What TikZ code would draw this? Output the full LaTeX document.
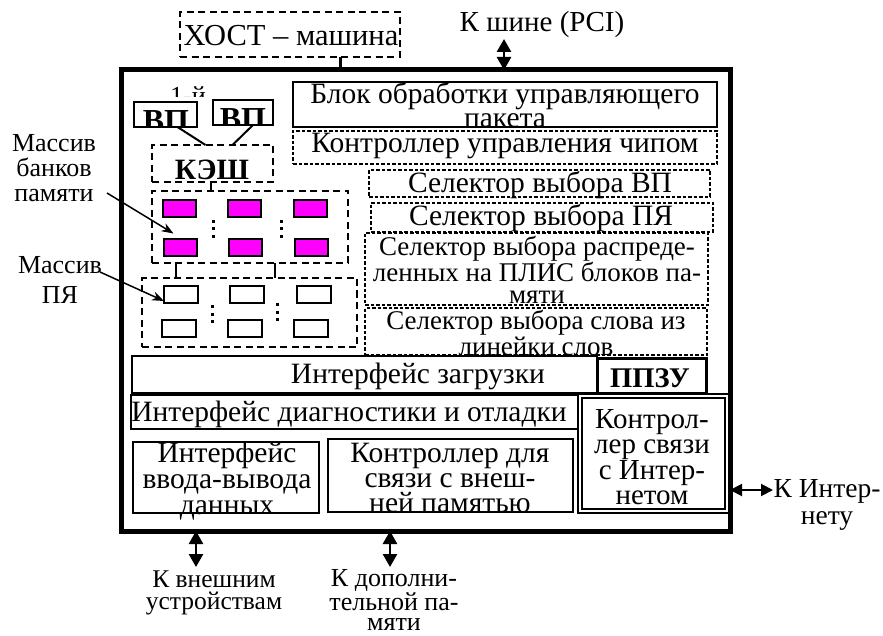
\documentclass[tikz,border=0pt]{standalone}
\usepackage{fontspec}
\setmainfont{Liberation Serif}
\usetikzlibrary{fit,calc,arrows.meta}
\definecolor{memfill}{RGB}{255,0,255}
\begin{document}
\begin{tikzpicture}[x=1pt,y=-1pt,
  every node/.style={inner sep=0pt,outer sep=0pt},
  txt/.style={font=\fontsize{29.5}{23}\selectfont,align=center},
  lbl/.style={font=\fontsize{26}{25}\selectfont,align=center},
  bigbold/.style={font=\fontsize{32}{32}\selectfont\bfseries},
  box/.style={draw,line width=2pt,fit={#1},inner sep=0pt},
  thickbox/.style={draw,line width=3pt,fit={#1},inner sep=0pt},
  thindash/.style={draw,line width=1.2pt,dash pattern=on 3.5pt off 2pt,fit={#1},inner sep=0pt},
  bigdash/.style={draw,line width=2pt,dash pattern=on 7pt off 4.5pt,fit={#1},inner sep=0pt},
  mem/.style={draw,line width=2pt,fill=memfill,minimum width=33pt,minimum height=17pt},
  cell/.style={draw,line width=2pt,fill=white,minimum width=34pt,minimum height=17pt},
  dots/.style={line width=3pt,dash pattern=on 3pt off 4.5pt},
  link/.style={line width=2pt},
  dbl/.style={line width=2.6pt,{Triangle[width=14pt,length=13pt]}-{Triangle[width=14pt,length=13pt]}},
  ptr/.style={line width=1.5pt,-{Stealth[width=9pt,length=12pt]}}
]
\useasboundingbox (0,0) rectangle (883,636);

% outer frame
\node[draw,line width=5pt,fit={(121,70)(730,531)},inner sep=0pt] (frame) {};

% host
\node[bigdash={(180,12)(400,57)}] (host) {};
\node[txt,font=\fontsize{30.5}{30}\selectfont] (hostt) at (291,36) {ХОСТ – машина};
\coordinate (hl) at (340,0);
\draw[line width=3pt] (host.south -| hl) -- (frame.north -| hl);

% PCI
\node[txt,font=\fontsize{29}{29}\selectfont] (pcit) at (542,25) {К шине (PCI)};
\coordinate (pci) at (504,39);
\draw[dbl] (pci) -- (pci |- frame.north);

% right column
\node[box={(293,82)(717,127)},line width=2.5pt] (blk) {};
\node[txt,font=\fontsize{29.5}{24}\selectfont] (blkt) at (505,105) {Блок обработки управляющего\\пакета};
\node[thindash={(293,131)(717,164)}] (ctl) {};
\node[txt] (ctlt) at (505,146) {Контроллер управления чипом};
\node[thindash={(369,170)(710,197)}] (svp) {};
\node[txt] (svpt) at (540,185) {Селектор выбора ВП};
\node[thindash={(371,203)(713,232)}] (spy) {};
\node[txt] (spyt) at (541,218) {Селектор выбора ПЯ};
\node[thindash={(365,233)(708,305)}] (spl) {};
\node[txt,font=\fontsize{27}{22.5}\selectfont] (splt) at (537,270) {Селектор выбора распреде-\\ленных на ПЛИС блоков па-\\мяти};
\node[thindash={(365,308)(707,355)}] (ssl) {};
\node[txt,font=\fontsize{27}{23}\selectfont] (sslt) at (536,333) {Селектор выбора слова из\\линейки слов};

% 1-й and VP boxes
\begin{scope}
  \clip (150,70) rectangle (230,97);
  \node[lbl,anchor=base] (first) at (188,105) {1-й};
\end{scope}
\node[box={(134,102)(197,127)},line width=2.5pt,fill=white] (vp1) {};
\node[box={(213,100)(273,125)},line width=2.5pt,fill=white] (vp2) {};
\begin{scope}
  \clip (vp1.south west) rectangle (vp1.north east);
  \node[bigbold,anchor=base] (vp1t) at (166,131.5) {ВП};
\end{scope}
\begin{scope}
  \clip (vp2.south west) rectangle (vp2.north east);
  \node[bigbold,anchor=base] (vp2t) at (243,129.5) {ВП};
\end{scope}

% cache
\node[bigdash={(152,145)(273,182)}] (kesh) {};
\begin{scope}
  \clip (kesh.south west) rectangle (kesh.north east);
  \node[bigbold,font=\fontsize{29.5}{30}\selectfont\bfseries,anchor=base] (kesht) at (212,180) {КЭШ};
\end{scope}
\draw[link] ($(vp1.south)+(12,0)$) -- ($(kesh.north)+(-7,0)$);
\draw[link] ($(vp2.south)+(10,0)$) -- ($(kesh.north)+(20,0)$);

% bank array
\node[bigdash={(152,191)(348,263)}] (bank) {};
\draw[link] ($(kesh.south)+(-2,0)$) coordinate (kd) -- (kd |- bank.north);
\node[mem] (m11) at (179.5,208.5) {};
\node[mem] (m12) at (244.5,208.5) {};
\node[mem] (m13) at (310.5,208.5) {};
\node[mem] (m21) at (180,248) {};
\node[mem] (m22) at (245.5,248) {};
\node[mem] (m23) at (311.5,248) {};
\draw[dots] (213,220) -- (213,238);
\draw[dots] (281,220) -- (281,238);

% PY array
\node[bigdash={(142,278)(357,347)}] (pya) {};
\coordinate (c1) at (176,0);
\coordinate (c2) at (275,0);
\draw[link] (c1 |- bank.south) -- (c1 |- pya.north);
\draw[link] (c2 |- bank.south) -- (c2 |- pya.north);
\node[cell] (p11) at (181,294.5) {};
\node[cell] (p12) at (247,294.5) {};
\node[cell] (p13) at (313.5,294.5) {};
\node[cell] (p21) at (178.5,328) {};
\node[cell] (p22) at (245,328) {};
\node[cell] (p23) at (311,328) {};
\draw[dots] (212,305) -- (212,323);
\draw[dots] (277,303) -- (277,321);

% left labels
\node[lbl] (lbank) at (54,168) {Массив\\банков\\памяти};
\coordinate (lbs) at (107,193);
\draw[ptr] (lbs) -- ($(m21.north west)+(10,-6)$);
\node[lbl,font=\fontsize{26}{30}\selectfont] (lpy) at (60,280) {Массив\\ПЯ};
\coordinate (lps) at (100,272);
\draw[ptr] (lps) -- ($(p11.south west)+(0,-2)$);

% lower blocks
\node[box={(132,356)(597,393)}] (load) {};
\node[txt] (loadt) at (418,376) {Интерфейс загрузки};
\node[thickbox={(597,358)(706,393)}] (rom) {};
\begin{scope}
  \clip (rom.south west) rectangle (rom.north east);
  \node[bigbold,font=\fontsize{28.5}{28}\selectfont\bfseries,anchor=base] (romt) at (650,387) {ППЗУ};
\end{scope}
\node[box={(131,395)(579,429)},line width=2.5pt] (diag) {};
\node[txt] (diagt) at (349,414) {Интерфейс диагностики и отладки};
\node[box={(133,442)(319,513)}] (io) {};
\node[txt,font=\fontsize{29.5}{26}\selectfont] (iot) at (227,481) {Интерфейс\\ввода-вывода\\данных};
\node[box={(328,439)(573,512)}] (mc) {};
\node[txt,font=\fontsize{29.5}{25}\selectfont] (mct) at (450,478) {Контроллер для\\связи с внеш-\\ней памятью};
\node[draw,double,double distance=2pt,line width=2pt,fit={(580,395.5)(726.5,510.5)},inner sep=0pt] (net) {};
\node[txt,font=\fontsize{29}{25}\selectfont] (nett) at (652,457) {Контрол-\\лер связи\\с Интер-\\нетом};

% external arrows
\coordinate (inet) at (773,490);
\draw[line width=2pt,{Triangle[width=12pt,length=12pt]}-{Triangle[width=12pt,length=12pt]}] (frame.east |- inet) -- (inet);
\node[txt,font=\fontsize{27.5}{27}\selectfont] (inett) at (827,505) {К Интер-\\нету};
\coordinate (e1) at (196,567);
\coordinate (e2) at (390,567);
\draw[dbl] (e1 |- frame.south) -- (e1);
\draw[dbl] (e2 |- frame.south) -- (e2);
\node[txt,font=\fontsize{25.5}{22}\selectfont] (e1t) at (214,593) {К внешним\\устройствам};
\node[txt,font=\fontsize{26}{20.5}\selectfont] (e2t) at (394,600) {К дополни-\\тельной па-\\мяти};
\end{tikzpicture}
\end{document}
